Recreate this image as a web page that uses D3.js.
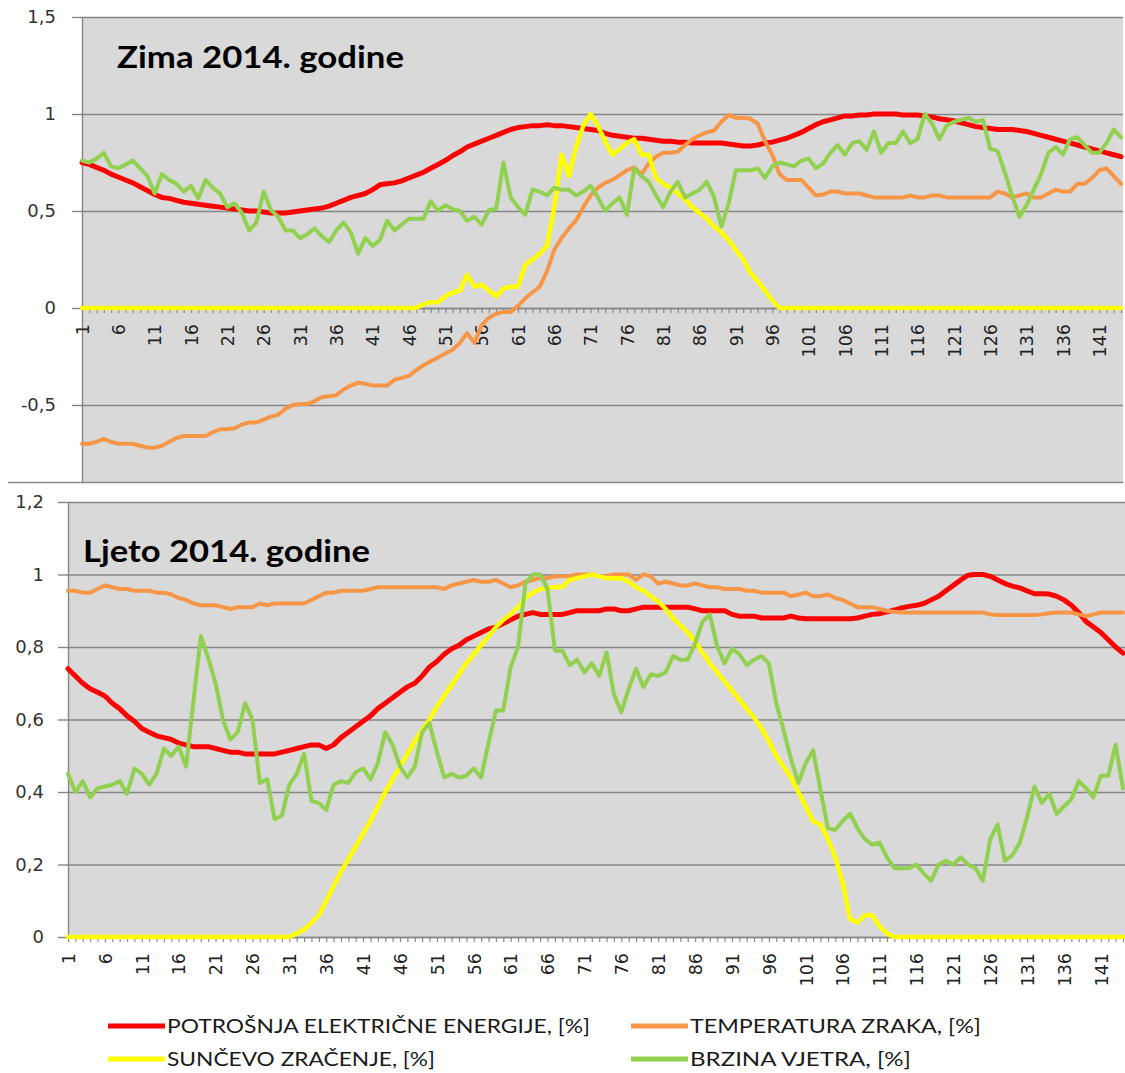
<!DOCTYPE html>
<html>
<head>
<meta charset="utf-8">
<script src="https://cdn.jsdelivr.net/npm/d3@7"></script>
<style>
  body { margin: 0; background: #fff; }
  svg { display: block; }
</style>
</head>
<body>
<script>
// ---- data ----
const categories = d3.range(1, 145);
const xTickLabels = [1, 6, 11, 16, 21, 26, 31, 36, 41, 46, 51, 56, 61, 66, 71, 76, 81, 86, 91, 96, 101, 106, 111, 116, 121, 126, 131, 136, 141];
const zimaYTicks = [-0.5, 0, 0.5, 1, 1.5];
const ljetoYTicks = [0, 0.2, 0.4, 0.6, 0.8, 1, 1.2];

const seriesNames = ["POTROŠNJA ELEKTRIČNE ENERGIJE, [%]", "TEMPERATURA ZRAKA, [%]", "SUNČEVO ZRAČENJE, [%]", "BRZINA VJETRA, [%]"];

// Zima 2014.
const zimaPotrosnja = [
  0.75,0.74,0.725,0.71,0.69,0.675,0.66,0.645,0.625,0.605,
  0.585,0.57,0.565,0.555,0.545,0.54,0.535,0.53,0.525,0.52,
  0.515,0.51,0.505,0.50,0.50,0.495,0.49,0.49,0.49,0.495,
  0.50,0.505,0.51,0.515,0.525,0.54,0.555,0.57,0.58,0.59,
  0.61,0.635,0.64,0.645,0.655,0.67,0.685,0.70,0.72,0.74,
  0.76,0.785,0.805,0.83,0.845,0.86,0.875,0.89,0.905,0.92,
  0.93,0.935,0.94,0.94,0.945,0.94,0.94,0.935,0.93,0.925,
  0.92,0.915,0.90,0.89,0.885,0.88,0.875,0.875,0.87,0.865,
  0.86,0.86,0.855,0.855,0.85,0.85,0.85,0.85,0.85,0.845,
  0.84,0.835,0.835,0.84,0.85,0.855,0.865,0.875,0.89,0.905,
  0.925,0.945,0.96,0.97,0.98,0.99,0.99,0.995,0.995,1.0,
  1.0,1.0,1.0,0.995,0.995,0.995,0.99,0.985,0.975,0.97,
  0.965,0.955,0.945,0.935,0.93,0.925,0.92,0.92,0.92,0.915,
  0.91,0.90,0.89,0.88,0.87,0.86,0.85,0.84,0.83,0.82,
  0.81,0.80,0.79,0.78
];
const zimaTemperatura = [
  -0.70,-0.70,-0.69,-0.675,-0.69,-0.70,-0.70,-0.70,-0.71,-0.72,
  -0.72,-0.71,-0.69,-0.67,-0.66,-0.66,-0.66,-0.66,-0.64,-0.625,
  -0.625,-0.62,-0.60,-0.59,-0.59,-0.575,-0.56,-0.55,-0.52,-0.50,
  -0.495,-0.495,-0.48,-0.46,-0.455,-0.45,-0.42,-0.40,-0.385,-0.39,
  -0.40,-0.40,-0.40,-0.37,-0.36,-0.35,-0.32,-0.295,-0.275,-0.255,
  -0.235,-0.215,-0.18,-0.13,-0.18,-0.09,-0.05,-0.03,-0.02,-0.02,
  0.01,0.05,0.08,0.11,0.19,0.30,0.36,0.41,0.45,0.52,
  0.58,0.62,0.645,0.66,0.685,0.71,0.725,0.69,0.745,0.78,
  0.80,0.80,0.805,0.84,0.87,0.89,0.905,0.915,0.96,0.995,
  0.98,0.98,0.975,0.95,0.86,0.79,0.69,0.66,0.66,0.66,
  0.62,0.58,0.585,0.60,0.60,0.59,0.59,0.59,0.58,0.57,
  0.57,0.57,0.57,0.57,0.58,0.57,0.57,0.58,0.58,0.57,
  0.57,0.57,0.57,0.57,0.57,0.57,0.60,0.59,0.57,0.58,
  0.59,0.57,0.57,0.59,0.61,0.60,0.60,0.64,0.64,0.67,
  0.71,0.72,0.68,0.64
];
const zimaSuncevo = [
  0,0,0,0,0,0,0,0,0,0,
  0,0,0,0,0,0,0,0,0,0,
  0,0,0,0,0,0,0,0,0,0,
  0,0,0,0,0,0,0,0,0,0,
  0,0,0,0,0,0,0,0.02,0.03,0.03,
  0.06,0.08,0.09,0.17,0.11,0.12,0.09,0.06,0.10,0.11,
  0.11,0.22,0.25,0.28,0.32,0.52,0.79,0.68,0.83,0.94,
  1.0,0.94,0.86,0.79,0.82,0.85,0.87,0.79,0.79,0.67,
  0.64,0.62,0.59,0.56,0.52,0.49,0.46,0.42,0.39,0.35,
  0.30,0.25,0.18,0.14,0.09,0.04,0,0,0,0,
  0,0,0,0,0,0,0,0,0,0,
  0,0,0,0,0,0,0,0,0,0,
  0,0,0,0,0,0,0,0,0,0,
  0,0,0,0,0,0,0,0,0,0,
  0,0,0,0
];
const zimaVjetar = [
  0.76,0.75,0.77,0.80,0.73,0.72,0.74,0.76,0.72,0.68,
  0.59,0.69,0.66,0.64,0.60,0.63,0.565,0.66,0.62,0.59,
  0.52,0.54,0.49,0.40,0.44,0.60,0.505,0.47,0.40,0.40,
  0.36,0.38,0.41,0.37,0.34,0.40,0.44,0.39,0.28,0.36,
  0.32,0.35,0.45,0.40,0.43,0.46,0.46,0.46,0.55,0.50,
  0.53,0.51,0.50,0.45,0.47,0.43,0.505,0.51,0.75,0.57,
  0.52,0.48,0.61,0.60,0.58,0.62,0.61,0.61,0.58,0.60,
  0.63,0.57,0.50,0.54,0.57,0.48,0.72,0.68,0.65,0.58,
  0.52,0.60,0.65,0.57,0.59,0.61,0.65,0.57,0.42,0.54,
  0.71,0.71,0.71,0.72,0.67,0.73,0.75,0.74,0.73,0.76,
  0.77,0.72,0.745,0.80,0.84,0.79,0.85,0.86,0.815,0.91,
  0.80,0.85,0.85,0.91,0.85,0.87,1.0,0.95,0.87,0.94,
  0.96,0.97,0.98,0.96,0.97,0.82,0.81,0.70,0.58,0.47,
  0.53,0.61,0.69,0.80,0.83,0.79,0.87,0.88,0.84,0.80,
  0.80,0.85,0.92,0.88
];

// Ljeto 2014.
const ljetoPotrosnja = [
  0.74,0.72,0.70,0.685,0.675,0.665,0.645,0.63,0.61,0.595,
  0.575,0.565,0.555,0.55,0.545,0.535,0.53,0.525,0.525,0.525,
  0.52,0.515,0.51,0.51,0.505,0.505,0.505,0.505,0.505,0.51,
  0.515,0.52,0.525,0.53,0.53,0.52,0.53,0.55,0.565,0.58,
  0.595,0.61,0.63,0.645,0.66,0.675,0.69,0.70,0.72,0.745,
  0.76,0.78,0.795,0.805,0.82,0.83,0.84,0.85,0.855,0.865,
  0.875,0.885,0.89,0.895,0.89,0.89,0.89,0.89,0.895,0.90,
  0.90,0.90,0.90,0.905,0.905,0.90,0.90,0.905,0.91,0.91,
  0.91,0.91,0.91,0.91,0.91,0.905,0.90,0.90,0.90,0.90,
  0.89,0.885,0.885,0.885,0.88,0.88,0.88,0.88,0.885,0.88,
  0.878,0.878,0.878,0.878,0.878,0.878,0.878,0.88,0.885,0.89,
  0.892,0.897,0.902,0.908,0.912,0.915,0.92,0.93,0.94,0.955,
  0.97,0.985,0.998,1.0,1.0,0.995,0.985,0.975,0.968,0.963,
  0.955,0.947,0.947,0.946,0.94,0.93,0.915,0.895,0.87,0.855,
  0.84,0.82,0.80,0.783
];
const ljetoTemperatura = [
  0.955,0.955,0.95,0.95,0.96,0.97,0.965,0.96,0.96,0.955,
  0.955,0.955,0.95,0.95,0.945,0.935,0.93,0.92,0.915,0.915,
  0.915,0.91,0.905,0.91,0.91,0.91,0.92,0.915,0.92,0.92,
  0.92,0.92,0.92,0.93,0.94,0.95,0.95,0.955,0.955,0.955,
  0.955,0.96,0.965,0.965,0.965,0.965,0.965,0.965,0.965,0.965,
  0.965,0.96,0.97,0.975,0.98,0.985,0.98,0.98,0.985,0.975,
  0.965,0.97,0.98,0.985,0.99,0.99,0.995,0.995,0.995,1.0,
  1.0,1.0,0.995,0.995,1.0,1.0,1.0,0.985,1.0,0.995,
  0.975,0.98,0.975,0.97,0.97,0.975,0.97,0.965,0.965,0.96,
  0.96,0.96,0.955,0.955,0.95,0.95,0.95,0.95,0.94,0.945,
  0.95,0.94,0.94,0.945,0.935,0.93,0.92,0.91,0.91,0.91,
  0.905,0.90,0.897,0.895,0.895,0.895,0.895,0.895,0.895,0.895,
  0.895,0.895,0.895,0.895,0.895,0.89,0.888,0.888,0.888,0.888,
  0.888,0.888,0.89,0.893,0.895,0.895,0.895,0.89,0.885,0.89,
  0.895,0.895,0.895,0.895
];
const ljetoSuncevo = [
  0,0,0,0,0,0,0,0,0,0,
  0,0,0,0,0,0,0,0,0,0,
  0,0,0,0,0,0,0,0,0,0,
  0,0.01,0.02,0.04,0.06,0.10,0.14,0.18,0.215,0.25,
  0.285,0.32,0.36,0.40,0.435,0.47,0.505,0.54,0.57,0.60,
  0.635,0.665,0.695,0.725,0.755,0.78,0.805,0.83,0.855,0.875,
  0.89,0.91,0.935,0.95,0.96,0.963,0.965,0.966,0.985,0.99,
  0.995,1.0,0.995,0.99,0.99,0.99,0.98,0.965,0.955,0.94,
  0.925,0.905,0.88,0.86,0.84,0.815,0.785,0.755,0.73,0.705,
  0.68,0.655,0.63,0.605,0.575,0.54,0.50,0.47,0.44,0.40,
  0.36,0.32,0.31,0.27,0.22,0.15,0.05,0.04,0.06,0.06,
  0.03,0.01,0,0,0,0,0,0,0,0,
  0,0,0,0,0,0,0,0,0,0,
  0,0,0,0,0,0,0,0,0,0,
  0,0,0,0
];
const ljetoVjetar = [
  0.45,0.40,0.43,0.385,0.41,0.415,0.42,0.43,0.395,0.465,
  0.45,0.42,0.45,0.52,0.50,0.525,0.47,0.65,0.83,0.77,
  0.70,0.60,0.545,0.565,0.645,0.60,0.425,0.435,0.325,0.335,
  0.42,0.45,0.505,0.375,0.37,0.35,0.42,0.43,0.425,0.455,
  0.465,0.435,0.48,0.565,0.53,0.47,0.44,0.47,0.565,0.59,
  0.51,0.44,0.45,0.44,0.445,0.465,0.44,0.535,0.625,0.625,
  0.745,0.80,0.975,1.0,1.0,0.96,0.79,0.79,0.75,0.765,
  0.73,0.755,0.72,0.785,0.67,0.62,0.685,0.74,0.69,0.725,
  0.72,0.73,0.775,0.765,0.765,0.81,0.87,0.89,0.80,0.755,
  0.795,0.78,0.75,0.765,0.775,0.755,0.645,0.57,0.49,0.425,
  0.48,0.515,0.405,0.30,0.295,0.32,0.34,0.30,0.27,0.255,
  0.26,0.22,0.19,0.19,0.19,0.20,0.175,0.155,0.20,0.21,
  0.20,0.22,0.20,0.19,0.155,0.27,0.31,0.21,0.225,0.26,
  0.33,0.415,0.37,0.395,0.34,0.36,0.38,0.43,0.41,0.385,
  0.445,0.445,0.53,0.41
];

// ---- drawing ----
const W = 1125, H = 1073;
const colors = ["#ff0000", "#f79646", "#ffff00", "#92d050"];
const widths = [5, 4, 4.5, 4];
const gridColor = "#868686";
const fmt = v => String(v).replace(".", ",");

const svg = d3.select("body").append("svg")
  .attr("width", W).attr("height", H);

function drawPanel(p) {
  const g = svg.append("g");
  const x = d3.scaleLinear().domain([1, 144]).range([p.left, p.right]);
  const y = d3.scaleLinear().domain(p.yDomain).range([p.bottom, p.top]);

  g.append("rect")
    .attr("x", p.left).attr("y", p.top)
    .attr("width", p.bgRight - p.left).attr("height", p.bottom - p.top)
    .attr("fill", "#d9d9d9");

  // gridlines
  g.append("g")
    .attr("transform", `translate(${p.left},0)`)
    .call(d3.axisLeft(y).tickValues(p.yTicks).tickSize(-(p.bgRight - p.left)).tickFormat(""))
    .call(a => a.select(".domain").remove())
    .call(a => a.selectAll("line").attr("stroke", gridColor).attr("stroke-width", 1.4));

  // y axis
  g.append("g")
    .attr("transform", `translate(${p.left},0)`)
    .call(d3.axisLeft(y).tickValues(p.yTicks).tickSize(10).tickSizeOuter(0).tickPadding(p.labelPad).tickFormat(fmt))
    .call(a => a.select(".domain").attr("stroke", gridColor).attr("stroke-width", 1.4))
    .call(a => a.selectAll("line").attr("stroke", gridColor).attr("stroke-width", 1.4))
    .call(a => a.selectAll("text")
      .attr("font-family", "'DejaVu Sans', Verdana, sans-serif")
      .attr("font-size", 18).attr("fill", "#333"));

  // x axis: category ticks
  const xa = g.append("g").attr("transform", `translate(0,${y(0)})`);
  xa.call(d3.axisBottom(x).tickValues(categories).tickSize(5).tickSizeOuter(0).tickFormat(""))
    .call(a => a.select(".domain").attr("stroke", gridColor).attr("stroke-width", 1.4))
    .call(a => a.selectAll("line").attr("stroke", gridColor).attr("stroke-width", 1.2));

  // x axis labels, rotated
  g.append("g").attr("transform", `translate(0,${y(0)})`)
    .call(d3.axisBottom(x).tickValues(xTickLabels).tickSize(0).tickFormat(d => d))
    .call(a => a.select(".domain").remove())
    .call(a => a.selectAll("text")
      .attr("transform", "rotate(-90)")
      .attr("x", -16).attr("y", 0).attr("dy", "0.36em")
      .attr("text-anchor", "end")
      .attr("font-family", "'DejaVu Sans', Verdana, sans-serif")
      .attr("font-size", 17.5).attr("fill", "#222"));

  // series
  const line = d3.line().x((d, i) => x(categories[i])).y(d => y(d));
  p.series.forEach((s, k) => {
    g.append("path")
      .datum(s)
      .attr("d", line)
      .attr("fill", "none")
      .attr("stroke", colors[k])
      .attr("stroke-width", widths[k])
      .attr("stroke-linejoin", "round")
      .attr("stroke-linecap", "round");
  });

  // title
  g.append("text")
    .attr("x", p.titleX).attr("y", p.titleY)
    .attr("font-family", "Lato, 'Open Sans', sans-serif")
    .attr("font-weight", "bold").attr("font-size", 30)
    .attr("textLength", 287).attr("lengthAdjust", "spacingAndGlyphs")
    .attr("fill", "#000")
    .text(p.title);
  return g;
}

drawPanel({
  left: 82, right: 1121, bgRight: 1123, top: 17, bottom: 482.6,
  yDomain: [-0.9, 1.5], yTicks: zimaYTicks, labelPad: 16,
  title: "Zima 2014. godine", titleX: 117, titleY: 68,
  series: [zimaPotrosnja, zimaTemperatura, zimaSuncevo, zimaVjetar]
});
// bottom border of the upper chart
svg.append("line")
  .attr("x1", 8).attr("x2", 1123).attr("y1", 482.5).attr("y2", 482.5)
  .attr("stroke", gridColor).attr("stroke-width", 1.6);

drawPanel({
  left: 68, right: 1123, bgRight: 1125, top: 502, bottom: 937,
  yDomain: [0, 1.2], yTicks: ljetoYTicks, labelPad: 14,
  title: "Ljeto 2014. godine", titleX: 83, titleY: 562,
  series: [ljetoPotrosnja, ljetoTemperatura, ljetoSuncevo, ljetoVjetar]
});

// legend
const legendItems = [
  { x: 108, y: 1026, w: 423 },
  { x: 631, y: 1026, w: 291 },
  { x: 108, y: 1059, w: 268 },
  { x: 631, y: 1059, w: 221 }
];
const lg = svg.append("g");
legendItems.forEach((it, k) => {
  lg.append("line")
    .attr("x1", it.x).attr("x2", it.x + 57)
    .attr("y1", it.y).attr("y2", it.y)
    .attr("stroke", colors[k]).attr("stroke-width", 5);
  lg.append("text")
    .attr("x", it.x + 59).attr("y", it.y)
    .attr("dy", "0.35em")
    .attr("font-family", "Lato, 'Open Sans', sans-serif")
    .attr("font-size", 20)
    .attr("textLength", it.w).attr("lengthAdjust", "spacingAndGlyphs")
    .attr("fill", "#1a1a1a")
    .text(seriesNames[k]);
});
</script>
</body>
</html>
